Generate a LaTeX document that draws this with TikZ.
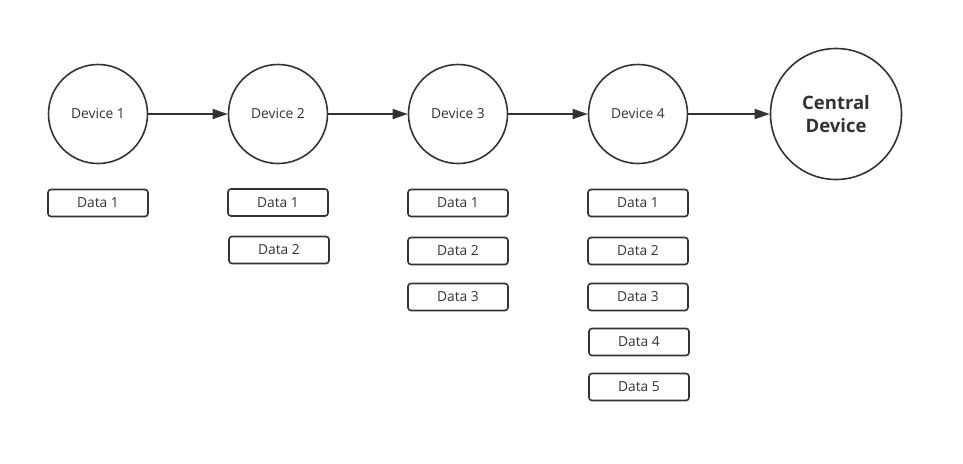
\documentclass[tikz,border=0pt]{standalone}
\usepackage{fontspec}
\setmainfont{Open Sans}
\usetikzlibrary{arrows.meta}
\definecolor{ink}{HTML}{333333}
\begin{document}
\begin{tikzpicture}[x=1pt,y=-1pt,
  dev/.style={circle,draw=ink,line width=1.6pt,minimum size=99pt,inner sep=0pt,text=ink,font=\fontsize{13.8}{16}\selectfont},
  central/.style={circle,draw=ink,line width=1.6pt,minimum size=131pt,inner sep=0pt,text=ink,align=center,font=\fontsize{18.5}{23}\selectfont\bfseries},
  databox/.style={draw=ink,line width=1.6pt,rounded corners=3pt,minimum width=100pt,minimum height=27pt,inner sep=0pt,text=ink,font=\fontsize{13.8}{16}\selectfont},
  flow/.style={draw=ink,line width=1.6pt,-{Triangle[length=15pt,width=10pt]}}]
\useasboundingbox (0,0) rectangle (963,463);
\fill[white] (0,0) rectangle (963,463);
\node[dev] (d1) at (98,114) {Device 1};
\node[dev] (d2) at (278,114) {Device 2};
\node[dev] (d3) at (458,114) {Device 3};
\node[dev] (d4) at (638,114) {Device 4};
\node[central] (c) at (836,114) {Central\\Device};
\draw[flow] (d1) -- (d2);
\draw[flow] (d2) -- (d3);
\draw[flow] (d3) -- (d4);
\draw[flow] (d4) -- (c);
\node[databox] (a1) at (98,203) {Data 1};
\node[databox] (b1) at (278,202.5) {Data 1};
\node[databox] (b2) at (279,250) {Data 2};
\node[databox] (e1) at (458,203) {Data 1};
\node[databox] (e2) at (458,251) {Data 2};
\node[databox] (e3) at (458,297) {Data 3};
\node[databox] (f1) at (638,203) {Data 1};
\node[databox] (f2) at (638,251) {Data 2};
\node[databox] (f3) at (638,297) {Data 3};
\node[databox] (f4) at (639,342) {Data 4};
\node[databox] (f5) at (639,387) {Data 5};
\end{tikzpicture}
\end{document}
